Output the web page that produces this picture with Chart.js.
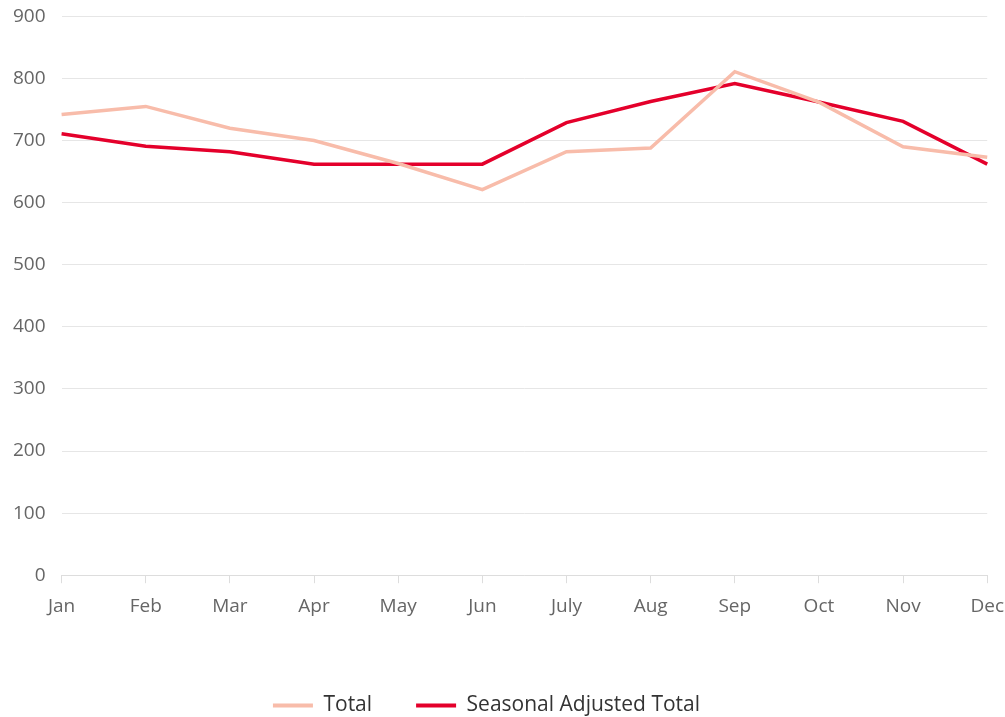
<!DOCTYPE html>
<html>
<head>
<meta charset="utf-8">
<script src="https://cdn.jsdelivr.net/npm/chart.js@4"></script>
<style>
  html, body { margin: 0; padding: 0; background: #fff; }
  #wrap { position: relative; width: 1005px; height: 717px; overflow: hidden; }
  #chart { position: absolute; left: 0; top: -11px; }
</style>
</head>
<body>
<div id="wrap"><canvas id="chart" width="1016" height="728"></canvas></div>
<script>
const months = ["Jan", "Feb", "Mar", "Apr", "May", "Jun", "July", "Aug", "Sep", "Oct", "Nov", "Dec"];
const total = [742, 755, 720, 700, 663, 621, 682, 688, 811, 762, 690, 673];
const seasonalAdjusted = [711, 691, 682, 662, 662, 662, 729, 763, 792, 762, 731, 662];
const yTicks = { min: 0, max: 900, step: 100 };

const FONT = "'Open Sans', Lato, sans-serif";

// nudge the legend a little left of the full-width centre
const legendShift = {
  id: "legendShift",
  afterLayout(chart) {
    chart.legend.left -= 20;
    chart.legend.right -= 20;
  }
};

new Chart(document.getElementById("chart").getContext("2d"), {
  type: "line",
  data: {
    labels: months,
    datasets: [
      {
        label: "Total",
        data: total,
        borderColor: "#f8bcaa",
        backgroundColor: "#f8bcaa",
        borderWidth: 3.5,
        pointRadius: 0,
        tension: 0,
        fill: false
      },
      {
        label: "Seasonal Adjusted Total",
        data: seasonalAdjusted,
        borderColor: "#e4002b",
        backgroundColor: "#e4002b",
        borderWidth: 3.5,
        pointRadius: 0,
        tension: 0,
        fill: false
      }
    ]
  },
  plugins: [legendShift],
  options: {
    responsive: false,
    animation: false,
    layout: { autoPadding: false, padding: { top: 0, left: -3, right: 0, bottom: -9 } },
    scales: {
      x: {
        grid: { drawOnChartArea: false, drawTicks: true, tickLength: 8, color: "#dddddd" },
        border: { display: true, color: "#dddddd" },
        ticks: { color: "#666", font: { family: FONT, size: 19 }, padding: 12, maxRotation: 0 },
        afterFit: s => { s.height += 21; }
      },
      y: {
        min: yTicks.min,
        max: yTicks.max,
        grid: { color: "#e6e6e6", drawTicks: false },
        border: { display: false },
        ticks: { stepSize: yTicks.step, color: "#666", font: { family: FONT, size: 19 }, padding: 16 }
      }
    },
    plugins: {
      tooltip: { enabled: false },
      legend: {
        position: "bottom",
        labels: {
          color: "#333",
          font: { family: FONT, size: 21 },
          boxWidth: 40,
          boxHeight: 0,
          padding: 44,
          generateLabels: chart => chart.data.datasets.map((d, i) => ({
            text: d.label,
            datasetIndex: i,
            fillStyle: d.borderColor,
            strokeStyle: d.borderColor,
            lineWidth: 4,
            lineCap: "round",
            fontColor: "#333"
          }))
        }
      }
    }
  }
});
</script>
</body>
</html>
